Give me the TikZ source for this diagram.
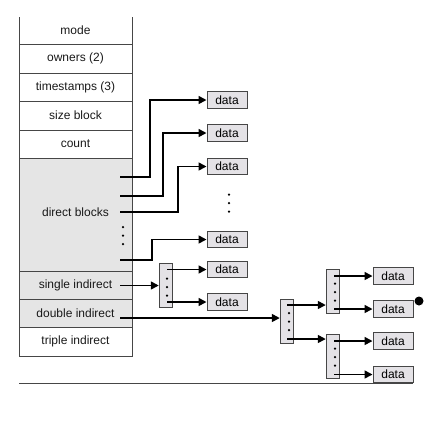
\documentclass[tikz,border=0pt]{standalone}
\usepackage{fontspec}
\setmainfont{Liberation Sans}
\usetikzlibrary{arrows.meta, calc, positioning}
\definecolor{cellgray}{RGB}{229,229,229}
\definecolor{boxgray}{RGB}{228,226,230}
\definecolor{edgegray}{RGB}{70,70,70}
\newcommand{\dotcol}[1]{\fill (#1) ++(0,-8.5) circle (1.25pt) ++(0,8.5) circle (1.25pt) ++(0,8.5) circle (1.25pt);}

\begin{document}
\begin{tikzpicture}[
  x=1pt, y=-1pt,
  field/.style={inner sep=0pt, font=\fontsize{12}{14}\selectfont, text=black!90},
  datum/.style={draw=edgegray, line width=1pt, fill=boxgray, minimum width=40pt,
              minimum height=16.5pt, inner sep=0pt, font=\fontsize{12}{14}\selectfont},
  block/.style={draw=edgegray, line width=1pt, fill=boxgray, minimum width=13.5pt,
              minimum height=44pt, inner sep=0pt},
  cell/.style={draw=edgegray, line width=0.8pt},
  ptr/.style={-{Triangle[length=8pt, width=8pt]}, line width=1.6pt},
]
\useasboundingbox (0,0) rectangle (435,424);

% inode column
\fill[cellgray] (19,158) rectangle (132,327);
\draw[cell] (19,17) -- (19,356) -- (132,356) -- (132,17);
\draw[cell] (19,44) -- (132,44) (19,73) -- (132,73) (19,101) -- (132,101)
  (19,130) -- (132,130) (19,158) -- (132,158) (19,271) -- (132,271)
  (19,299) -- (132,299) (19,327) -- (132,327);

% Fields
\node[field] (mode)   at (75.5, 30.5) {mode};
\node[field] (owners) at (75.5, 58.5) {owners (2)};
\node[field] (stamps) at (75.5, 87)   {timestamps (3)};
\node[field] (size)   at (75.5, 115.5) {size block};
\node[field] (count)  at (75.5, 144)  {count};
\node[field] (direct) at (75.5, 212)  {direct blocks};
\node[field] (single) at (75.5, 285.5) {single indirect};
\node[field] (double) at (75.5, 313)  {double indirect};
\node[field] (triple) at (75.5, 341.5) {triple indirect};
\dotcol{123,235.5}

% Pointer origins
\coordinate (dp1) at (120, 177);
\coordinate (dp2) at (120, 196);
\coordinate (dp3) at (120, 212);
\coordinate (dp4) at (120, 260);
\coordinate (sp)  at (120, 285.5);
\coordinate (dbp) at (120, 318);

% Data blocks
\node[datum] (d1) at (227, 100)   {data};
\node[datum] (d2) at (227, 133)   {data};
\node[datum] (d3) at (227, 166.5) {data};
\node[datum] (d4) at (227, 239.5) {data};
\node[datum] (d5) at (227, 269.5) {data};
\node[datum] (d6) at (227, 302)   {data};
\dotcol{229,203}

\node[datum] (da) at (393, 276)   {data};
\node[datum] (db) at (393, 309)   {data};
\node[datum] (dc) at (393, 341)   {data};
\node[datum] (dd) at (393, 374.5) {data};

% Indirect blocks
\node[block] (ind1)  at (166, 285.5) {};
\node[block] (ind2)  at (287, 321.5) {};
\node[block] (ind3a) at (333, 291)   {};
\node[block] (ind3b) at (333, 356.5) {};
\dotcol{167,287}
\dotcol{289,321.5}
\dotcol{335,292}
\dotcol{335,357}

\coordinate (i1a) at (167, 269.5);
\coordinate (i1b) at (167, 302);
\coordinate (i2a) at (287, 305);
\coordinate (i2b) at (287, 339);
\coordinate (i3a) at (334, 276);
\coordinate (i3b) at (334, 309);
\coordinate (i3c) at (334, 341);
\coordinate (i3d) at (334, 374.5);

% Arrows
\draw[ptr] (dp1) -- ++(30,0) |- (d1);
\draw[ptr] (dp2) -- ++(43,0) |- (d2);
\draw[ptr] (dp3) -- ++(58,0) |- (d3);
\draw[ptr] (dp4) -- ++(32,0) |- (d4);
\draw[ptr] (sp) -- (ind1);
\draw[ptr] (i1a) -- (d5);
\draw[ptr] (i1b) -- (d6);
\draw[ptr] (dbp) -- (dbp -| ind2.west);
\draw[ptr] (i2a) -- (i2a -| ind3a.west);
\draw[ptr] (i2b) -- (i2b -| ind3b.west);
\draw[ptr] (i3a) -- (da);
\draw[ptr] (i3b) -- (db);
\draw[ptr] (i3c) -- (dc);
\draw[ptr] (i3d) -- (dd);

% Marker
\node[circle, fill=black, minimum size=9pt, inner sep=0pt] (mark1) at (419, 301) {};

% Rule
\coordinate (rl) at (19, 383);
\coordinate (rr) at (413, 383);
\draw[cell] (rl) -- (rr);

\end{tikzpicture}
\end{document}
